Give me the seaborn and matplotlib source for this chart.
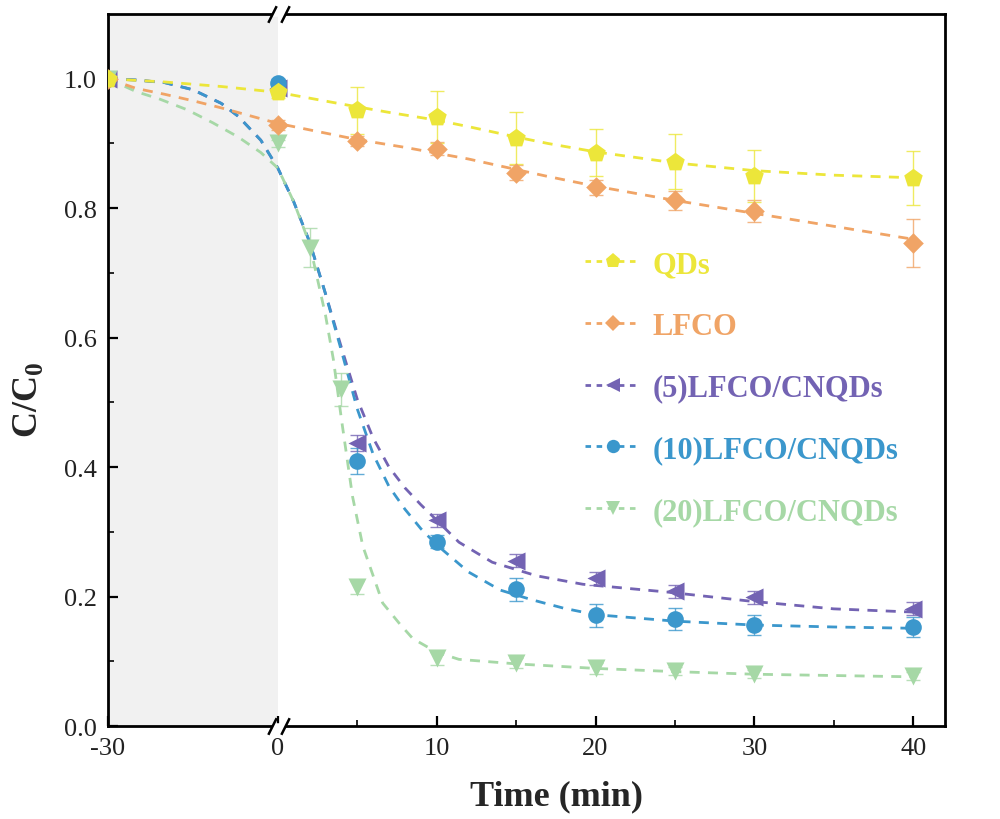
import numpy as np
import pandas as pd
import matplotlib
matplotlib.use("Agg")
import matplotlib.pyplot as plt
from matplotlib.lines import Line2D
from matplotlib.ticker import FixedLocator
import seaborn as sns

sns.set_theme(style="white")
plt.rcParams['font.family'] = ['Liberation Serif', 'DejaVu Serif']
plt.rcParams['mathtext.fontset'] = 'custom'
plt.rcParams['mathtext.rm'] = 'Liberation Serif'
plt.rcParams['mathtext.bf'] = 'Liberation Serif:bold'
plt.rcParams['axes.unicode_minus'] = False

# ---------------- data ----------------
series_names = ["QDs", "LFCO", "(5)LFCO/CNQDs", "(10)LFCO/CNQDs", "(20)LFCO/CNQDs"]
colors = ["#ece63a", "#f0a466", "#7363b3", "#3b97cc", "#a6d8a6"]
markers = ["p", "D", "<", "o", "v"]
msizes = [14, 10.5, 13, 12, 13]

t_main = [-30, 0, 5, 10, 15, 20, 25, 30, 40]
t_20 = [-30, 0, 2, 4, 5, 10, 15, 20, 25, 30, 40]

qds_y = [1.0, 0.980, 0.951, 0.941, 0.909, 0.886, 0.872, 0.850, 0.847]
qds_err = [0, 0.010, 0.037, 0.040, 0.040, 0.037, 0.043, 0.040, 0.042]
lfco_y = [1.0, 0.929, 0.904, 0.892, 0.855, 0.832, 0.812, 0.795, 0.746]
lfco_err = [0, 0.008, 0.008, 0.010, 0.012, 0.012, 0.015, 0.017, 0.037]
c5_y = [1.0, 0.985, 0.437, 0.318, 0.255, 0.228, 0.208, 0.199, 0.181]
c5_err = [0, 0.005, 0.012, 0.010, 0.010, 0.010, 0.010, 0.010, 0.010]
c10_y = [1.0, 0.994, 0.409, 0.285, 0.211, 0.171, 0.165, 0.156, 0.153]
c10_err = [0, 0.005, 0.020, 0.010, 0.018, 0.018, 0.017, 0.015, 0.015]
c20_y = [1.0, 0.900, 0.739, 0.520, 0.214, 0.105, 0.097, 0.089, 0.085, 0.080, 0.077]
c20_err = [0, 0.005, 0.030, 0.025, 0.010, 0.010, 0.008, 0.008, 0.006, 0.006, 0.006]

# fitted dashed curves
qds_fit_t = [-30, -20, -10, 0, 2, 4, 7, 10, 12, 15, 17, 20, 25, 30, 35, 40]
qds_fit_y = [1.0, 0.995, 0.988, 0.979, 0.970, 0.961, 0.948, 0.936, 0.926, 0.910, 0.900, 0.887, 0.870, 0.858, 0.851, 0.847]
lfco_fit_t = [-30, -25, -20, -15, -10, -5, 0, 2, 5, 8, 12, 17, 20, 25, 30, 35, 40]
lfco_fit_y = [1.0, 0.985, 0.976, 0.966, 0.955, 0.943, 0.931, 0.921, 0.906, 0.894, 0.876, 0.849, 0.834, 0.812, 0.792, 0.772, 0.752]
c5_fit_t = [-30, -25, -20, -15, -10, -7, -3, 0, 1, 2, 3, 4, 5, 6, 7, 8, 9, 10, 11.4, 13.5, 16.3, 19.2, 24.5, 29.7, 35, 40]
c5_fit_y = [1.0, 0.998, 0.994, 0.983, 0.962, 0.942, 0.905, 0.862, 0.810, 0.748, 0.668, 0.585, 0.505, 0.445, 0.400, 0.368, 0.342, 0.318, 0.284, 0.253, 0.232, 0.219, 0.207, 0.193, 0.181, 0.176]
c10_fit_t = [-30, -25, -20, -15, -10, -7, -3, 0, 1, 2, 3, 4, 5, 6, 7, 8, 9, 10, 12, 14, 16, 18, 20, 25, 30, 35, 40]
c10_fit_y = [1.0, 0.998, 0.994, 0.983, 0.962, 0.942, 0.905, 0.862, 0.810, 0.748, 0.668, 0.580, 0.490, 0.420, 0.370, 0.335, 0.305, 0.280, 0.238, 0.210, 0.195, 0.182, 0.172, 0.162, 0.156, 0.153, 0.151]
c20_fit_t = [-30, -25, -21, -16, -11.5, -7, -3, 0, 1, 2, 3, 3.5, 4, 4.7, 5.35, 6.6, 7.7, 8.5, 10, 11.4, 15, 20, 25, 30, 35, 40]
c20_fit_y = [1.0, 0.980, 0.969, 0.952, 0.932, 0.910, 0.886, 0.862, 0.810, 0.745, 0.635, 0.566, 0.475, 0.355, 0.278, 0.190, 0.157, 0.135, 0.114, 0.103, 0.096, 0.089, 0.084, 0.080, 0.078, 0.076]

x_major = [-30, 0, 10, 20, 30, 40]
x_minor = [5, 15, 25, 35]
y_major = [0.0, 0.2, 0.4, 0.6, 0.8, 1.0]
y_minor = [0.1, 0.3, 0.5, 0.7, 0.9]

marker_data = [
    (t_main, qds_y, qds_err), (t_main, lfco_y, lfco_err), (t_main, c5_y, c5_err),
    (t_main, c10_y, c10_err), (t_20, c20_y, c20_err)]
fit_data = [(qds_fit_t, qds_fit_y), (lfco_fit_t, lfco_fit_y), (c5_fit_t, c5_fit_y),
            (c10_fit_t, c10_fit_y), (c20_fit_t, c20_fit_y)]

# ---------------- figure ----------------
K = 10.69 / 30.0  # compression of the dark-phase segment


def fwd(t):
    t = np.asarray(t, dtype=float)
    return np.where(t < 0, t * K, t)


def inv(u):
    u = np.asarray(u, dtype=float)
    return np.where(u < 0, u / K, u)


fig = plt.figure(figsize=(10, 8.2), dpi=100)
ax = fig.add_axes([0.108, 0.1134, 0.837, 0.8683])
ax.set_xscale('function', functions=(fwd, inv))
ax.set_xlim(-30, 42)
ax.set_ylim(0, 1.1)

ax.axvspan(-30, 0, color="#f1f1f1", zorder=0, lw=0)

order = [2, 3, 4, 1, 0]
for i in order:
    ft, fy = fit_data[i]
    df = pd.DataFrame({"t": ft, "y": fy})
    sns.lineplot(data=df, x="t", y="y", ax=ax, color=colors[i], lw=2.0,
                 dashes=False, sort=False, zorder=2)
    ax.lines[-1].set_dashes((3.6, 3.0))

for i in order:
    tt, yy, ee = marker_data[i]
    ax.errorbar(tt, yy, yerr=ee, fmt='none', ecolor=colors[i], elinewidth=1.0,
                capsize=5, capthick=1.0, alpha=0.8, zorder=3)
    df = pd.DataFrame({"t": tt, "y": yy})
    sns.scatterplot(data=df, x="t", y="y", ax=ax, color=colors[i], marker=markers[i],
                    s=msizes[i] ** 2, linewidth=0, zorder=4, legend=False)

# axes styling
for sp in ax.spines.values():
    sp.set_color("black")
    sp.set_linewidth(2.0)
ax.xaxis.set_major_locator(FixedLocator(x_major))
ax.xaxis.set_minor_locator(FixedLocator(x_minor))
ax.yaxis.set_major_locator(FixedLocator(y_major))
ax.yaxis.set_minor_locator(FixedLocator(y_minor))
ax.set_xticklabels([str(v) for v in x_major])
ax.set_yticklabels([f"{v:.1f}" for v in y_major])
ax.tick_params(which='major', direction='in', length=7, width=1.6, labelsize=19,
               bottom=True, left=True, top=False, right=False, pad=8, colors='black')
ax.tick_params(which='minor', direction='in', length=4, width=1.4,
               bottom=True, left=True, top=False, right=False)
ax.tick_params(axis='x', labelcolor='#222222')
ax.tick_params(axis='y', labelcolor='#222222')

ax.set_xlabel("Time (min)", fontsize=26, fontweight='bold')
ax.set_ylabel(r"C/C$_{\mathbf{0}}$", fontsize=26, fontweight='bold')
ax.xaxis.set_label_coords(0.536, -0.075)
ax.yaxis.set_label_coords(-0.075, 0.46)

# axis break marks at t = 0 on both bottom and top spines
btr = ax.get_xaxis_transform()
for yb in (0, 1):
    ax.plot([-1.1, 0.45], [yb, yb], transform=btr, color="white", lw=4,
            clip_on=False, zorder=10, solid_capstyle='butt')
    ax.plot([-1.1, 0.45], [yb, yb], transform=btr, ls='none',
            marker=[(-0.5, -1), (0.5, 1)], markersize=12, mec='black', mew=1.8,
            clip_on=False, zorder=11)

# legend
handles = [Line2D([], [], color=colors[i], ls='--', dashes=(2.0, 2.0), lw=2.0,
                  marker=markers[i], markersize=msizes[i] * 0.8, markeredgewidth=0)
           for i in range(5)]
leg = ax.legend(handles, series_names, loc='upper left', bbox_to_anchor=(0.552, 0.69),
                frameon=False, handlelength=1.8, handletextpad=0.4, labelspacing=1.07,
                borderpad=0, prop={'family': 'Liberation Serif', 'weight': 'bold', 'size': 22})
for txt, c in zip(leg.get_texts(), colors):
    txt.set_color(c)

fig.savefig("out.png", dpi=100, facecolor="white")
